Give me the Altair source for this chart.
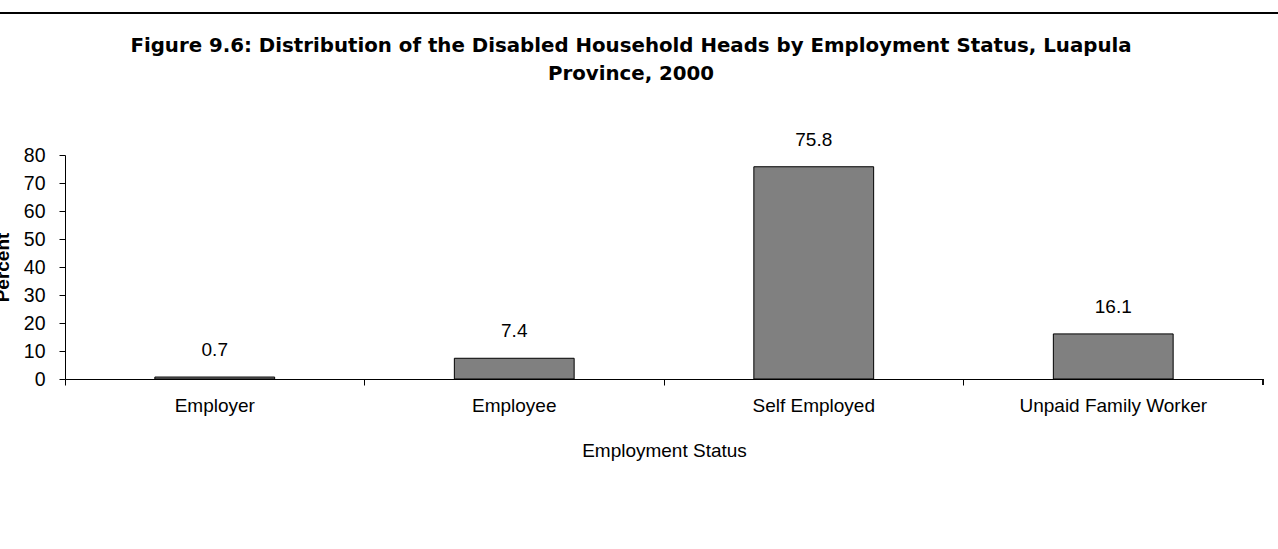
import altair as alt
import pandas as pd

# Employment status of disabled household heads, Luapula Province, 2000 (percent)
categories = ["Employer", "Employee", "Self Employed", "Unpaid Family Worker"]
percent = [0.7, 7.4, 75.8, 16.1]
y_ticks = [0, 10, 20, 30, 40, 50, 60, 70, 80]

df = pd.DataFrame({"status": categories, "percent": percent})

FONT = "Liberation Sans"
TITLE_FONT = "DejaVu Sans"
W, H = 1198, 224

x_enc = alt.X(
    "status:N",
    sort=categories,
    scale=alt.Scale(paddingInner=0, paddingOuter=0),
    axis=alt.Axis(
        title="Employment Status",
        labelAngle=0,
        labelLimit=400,
        labelFont=FONT,
        labelFontSize=19,
        labelColor="#000000",
        labelPadding=11,
        titleFont=FONT,
        titleFontSize=19,
        titleFontWeight="normal",
        titleColor="#000000",
        titlePadding=26,
        bandPosition=0,
        tickSize=6,
        tickColor="#000000",
        domainColor="#000000",
        grid=False,
    ),
)

y_enc = alt.Y(
    "percent:Q",
    scale=alt.Scale(domain=[0, 80], nice=False),
    axis=alt.Axis(
        title="Percent",
        values=y_ticks,
        labelOverlap=False,
        labelFont=FONT,
        labelFontSize=19.5,
        labelColor="#000000",
        labelPadding=14,
        titleFont=FONT,
        titleFontSize=19,
        titleFontWeight="bold",
        titleColor="#000000",
        titleX=-57,
        titleY=H / 2,
        titleAngle=-90,
        titleAlign="center",
        titleBaseline="alphabetic",
        tickSize=6,
        tickColor="#000000",
        domainColor="#000000",
        grid=False,
    ),
)

bars = alt.Chart(df).mark_bar(
    width=alt.RelativeBandSize(0.4),
    color="#808080",
    stroke="#000000",
    strokeWidth=1,
).encode(x=x_enc, y=y_enc)

labels = alt.Chart(df).mark_text(
    font=FONT,
    fontSize=19,
    color="#000000",
    baseline="middle",
    dy=-27,
).encode(
    x=x_enc,
    y=y_enc,
    text=alt.Text("percent:Q", format=".1f"),
)

# closing tick at the right end of the category axis
end_tick = alt.Chart(df).mark_rule(color="#000000", strokeWidth=1).encode(
    x=alt.value(W), y=alt.value(H), y2=alt.value(H + 6)
)

# horizontal rule running across the top of the page
top_rule = alt.Chart(df).mark_rule(color="#000000", strokeWidth=1.5).encode(
    x=alt.value(-65), x2=alt.value(1213), y=alt.value(-142)
)

chart = alt.layer(bars, labels, end_tick, top_rule).properties(
    width=W,
    height=H,
    background="#ffffff",
    title=alt.TitleParams(
        text=[
            "Figure 9.6: Distribution of the Disabled Household Heads by Employment Status, Luapula",
            "Province, 2000",
        ],
        font=TITLE_FONT,
        fontSize=19.8,
        fontWeight="bold",
        color="#000000",
        anchor="middle",
        lineHeight=28,
        dx=-33,
        offset=-72,
    ),
    autosize=alt.AutoSizeParams(type="none"),
    padding={"left": 65, "top": 155, "right": 15, "bottom": 170},
).configure_view(stroke=None)

chart.save("out.html", embed_options={"renderer": "svg", "actions": False})
